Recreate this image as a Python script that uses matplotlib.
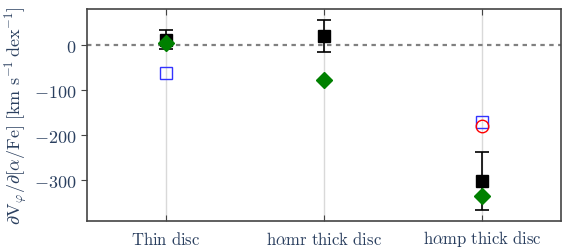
import matplotlib
matplotlib.use("Agg")
import matplotlib.pyplot as plt
import matplotlib.transforms as mtransforms
import numpy as np

categories = [r"$\mathrm{Thin\ disc}$", r"$\mathrm{h}\alpha\mathrm{mr\ thick\ disc}$", r"$\mathrm{h}\alpha\mathrm{mp\ thick\ disc}$"]
black_vals = [12, 20, -302]
black_err = [21, 35, 65]
green_vals = [5, -78, -336]
blue_vals = [-62, np.nan, -171]
red_vals = [np.nan, np.nan, -180]
yticks = [0, -100, -200, -300]

plt.rcParams['mathtext.fontset'] = 'cm'
plt.rcParams['font.family'] = 'serif'
txtc = '#2a3f5f'

fig = plt.figure(figsize=(5.86, 2.53), dpi=100)
ax = fig.add_axes([87/586, 1-222/253, (561-87)/586, (222-10)/253])
x = np.arange(len(categories))

for xi in x:
    ax.axvline(xi, color='#d9d9d9', lw=1, zorder=0)
ax.axhline(0, color='#808080', ls=(0, (2, 2)), lw=1.6, zorder=1)

ax.errorbar(x, black_vals, yerr=black_err, fmt='s', color='black', ms=8,
            ecolor='black', elinewidth=1.2, capsize=5, capthick=1.2, zorder=3)
ax.plot(x, green_vals, 'D', color='green', ms=8, mec='green', zorder=4)
ax.plot(x, blue_vals, 's', mfc='none', mec='#3333ff', mew=1, ms=9, zorder=4)
ax.plot(x, red_vals, 'o', mfc='none', mec='red', mew=1, ms=9, zorder=4)

ax.set_xlim(-0.5, 2.5)
ax.set_ylim(-391, 80)
ax.set_xticks(x)
ax.set_xticklabels(categories, fontsize=12, color=txtc)
ax.set_yticks(yticks)
ax.set_yticklabels([r"$%d$" % v if v == 0 else r"$-%d$" % (-v) for v in yticks], fontsize=13, color=txtc)
ax.tick_params(axis='x', direction='in', top=True, length=4, color='#444444', pad=7)
ax.tick_params(axis='y', direction='out', length=4, color='#444444')
for s in ax.spines.values():
    s.set_color('#444444')
    s.set_linewidth(1.2)
ax.set_ylabel(r"$\partial \mathrm{V}_\varphi/\partial[\alpha/\mathrm{Fe}]\ [\mathrm{km\ s^{-1}\,dex^{-1}}]$",
              fontsize=13, color=txtc, labelpad=4)

lbl = ax.get_xticklabels()[2]
lbl.set_transform(lbl.get_transform() + mtransforms.ScaledTranslation(0, 3/100, fig.dpi_scale_trans))

fig.savefig("out.png", dpi=100)
